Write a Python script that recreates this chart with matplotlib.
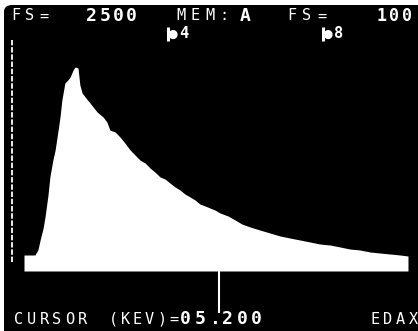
import matplotlib.pyplot as plt
from matplotlib.patches import FancyBboxPatch
import matplotlib.transforms as mtransforms

W, H = 418, 331

# spectrum read out channel by channel (keV, counts)
energy = [0.00, 0.29, 0.37, 0.43, 0.51, 0.56, 0.64, 0.69, 0.77, 0.83,
          0.91, 0.96, 1.01, 1.09, 1.17, 1.23, 1.31, 1.36, 1.44, 1.49,
          1.55, 1.63, 1.76, 1.95, 2.11, 2.21, 2.29, 2.43, 2.56, 2.69,
          2.83, 2.96, 3.09, 3.23, 3.36, 3.49, 3.63, 3.76, 3.89, 4.03,
          4.16, 4.29, 4.43, 4.56, 4.69, 4.83, 4.96, 5.09, 5.23, 5.44,
          5.63, 5.81, 6.03, 6.29, 6.56, 6.83, 7.09, 7.36, 7.63, 7.89,
          8.16, 8.43, 8.69, 8.96, 9.23, 9.49, 9.76, 10.03, 10.24]
counts = [160, 160, 210, 310, 430, 540, 760, 940, 1110, 1210,
          1410, 1540, 1710, 1880, 1910, 1940, 2010, 2040, 2030, 1860,
          1780, 1740, 1680, 1590, 1540, 1490, 1410, 1390, 1340, 1280,
          1210, 1160, 1110, 1080, 1030, 990, 940, 920, 880, 840,
          810, 770, 740, 710, 670, 650, 630, 610, 580, 550,
          510, 470, 440, 410, 380, 350, 330, 310, 290, 270,
          260, 240, 220, 210, 190, 180, 170, 160, 150]

cursor_kev = 5.2
marker_kev = [3.84, 7.97]
marker_labels = ["4", "8"]

full_scale = "2500"
memory = "A"
fs_right = "100"

fig = plt.figure(figsize=(W / 100, H / 100), dpi=100)
fig.patch.set_facecolor("white")
ax = fig.add_axes([0, 0, 1, 1])
ax.patch.set_visible(False)
for s in ax.spines.values():
    s.set_visible(False)
ax.set_xticks([])
ax.set_yticks([])
ax.set_xlim(-0.64, 10.507)
ax.set_ylim(-600, 2710)

# black screen with the rounded corner of the tube
screen = FancyBboxPatch((4 / W, -0.1), 1.2, 1 - 5 / H + 0.1,
                        boxstyle="round,pad=0,rounding_size=0.02",
                        transform=fig.transFigure, facecolor="black",
                        edgecolor="none", zorder=-1)
fig.patches.append(screen)

ax.fill_between(energy, counts, 0, color="white", lw=0)

# vertical scale ruler on the left
ax.axvline(-0.32, ymin=1 - 262 / H, ymax=1 - 40 / H, color="white",
           lw=1.3, ls=(0, (3, 1)))

# cursor
ax.axvline(cursor_kev, ymin=1 - 312 / H, ymax=1 - 272 / H, color="white", lw=1.5)

# element markers
blend = mtransforms.blended_transform_factory(ax.transData, ax.transAxes)
for e, lab in zip(marker_kev, marker_labels):
    ax.vlines(e, 1 - 41 / H, 1 - 27 / H, transform=blend, color="white", lw=2.2)
    ax.text(e - 0.02, 1 - 34 / H, "\u25cf", transform=blend, color="white",
            fontsize=8.5, ha="left", va="center", family="DejaVu Sans")
    ax.text(e + 0.3, 1 - 34 / H, lab, transform=blend, color="white",
            fontsize=11, ha="left", va="center", family="DejaVu Sans Mono",
            fontweight="bold")


def crt(s, x, y, pitch, size=11, weight="normal"):
    for i, ch in enumerate(s):
        ax.text((x + i * pitch) / W, 1 - y / H, ch, transform=ax.transAxes,
                color="white", fontsize=size, fontweight=weight,
                family="DejaVu Sans Mono", ha="left", va="center")


crt("FS=", 11, 16, 14)
crt(full_scale, 86, 16, 13.3, size=13, weight="bold")
crt("MEM:", 176, 16, 14.5)
crt(memory, 240, 16, 13, size=13, weight="bold")
crt("FS=", 287, 16, 15)
crt(fs_right, 377, 16, 12.5, size=12, weight="bold")

crt("CURSOR", 14, 319, 12.8)
crt("(KEV)=", 109, 319, 12)
crt("05.", 180, 319, 15, size=13, weight="bold")
crt("200", 222, 319, 14.5, size=13, weight="bold")
crt("EDAX", 371, 319, 12.5)

fig.savefig("out.png", dpi=100, facecolor=fig.get_facecolor())
